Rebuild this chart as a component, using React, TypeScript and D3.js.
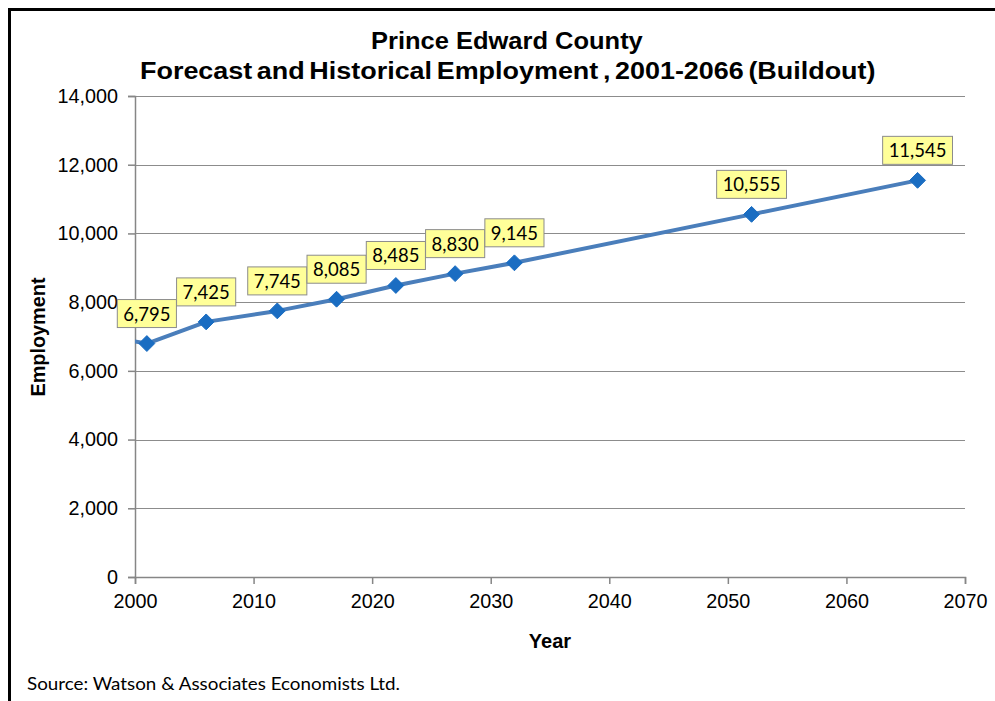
import React, { useEffect, useRef } from "react";
import * as d3 from "d3";

const years = [2001, 2006, 2012, 2017, 2022, 2027, 2032, 2052, 2066];
const employment = [6795, 7425, 7745, 8085, 8485, 8830, 9145, 10555, 11545];
// earlier (clipped) history point that enters the plot from the left edge
const leadYear = [1996];
const leadValue = [7090];
const yTicks = [0, 2000, 4000, 6000, 8000, 10000, 12000, 14000];
const xTicks = [2000, 2010, 2020, 2030, 2040, 2050, 2060, 2070];
const titleLines = [
  "Prince Edward County",
  "Forecast and Historical Employment , 2001-2066 (Buildout)",
];
const xTitle = "Year";
const yTitle = "Employment";
const sourceNote = "Source: Watson & Associates Economists Ltd.";

const W = 995;
const H = 701;
const L = 135, R = 965, T = 96, B = 577;
const ARIAL = "'Liberation Sans', Arimo, Arial, Helvetica, sans-serif";
const CALIBRI = "Lato, 'Open Sans', sans-serif";

export default function App() {
  const ref = useRef<SVGSVGElement>(null);
  useEffect(() => {
    const svg = d3.select(ref.current);
    svg.selectAll("*").remove();
    const x = d3.scaleLinear().domain([2000, 2070]).range([L, R]);
    const y = d3.scaleLinear().domain([0, 14000]).range([B, T]);
    const fmt = d3.format(",");

    svg.append("rect").attr("width", W).attr("height", H).attr("fill", "#fff");
    // outer border
    svg.append("rect").attr("x", 9.5).attr("y", 9.5).attr("width", 1000).attr("height", 720)
      .attr("fill", "none").attr("stroke", "#000").attr("stroke-width", 3);

    // title (stretched horizontally like the source rendering)
    const titleSpecs = [
      { text: titleLines[0], x: 371, w: 272, y: 49, ws: 0 },
      { text: titleLines[1], x: 140, w: 736, y: 79, ws: -2.5 },
    ];
    titleSpecs.forEach(s => {
      const g = svg.append("g");
      const t = g.append("text").attr("x", 0).attr("y", 0)
        .style("font-family", ARIAL).attr("font-weight", "bold")
        .attr("font-size", 23.5).attr("fill", "#000").attr("word-spacing", s.ws)
        .text(s.text);
      const nat = (t.node() as SVGTextElement).getBBox().width;
      const k = s.w / nat;
      g.attr("transform", `translate(${s.x},${s.y}) scale(${k},1)`);
    });

    // gridlines
    svg.append("g").selectAll("line").data(yTicks.filter(d => d > 0)).join("line")
      .attr("x1", L).attr("x2", R).attr("y1", d => Math.round(y(d)) + 0.5).attr("y2", d => Math.round(y(d)) + 0.5)
      .attr("stroke", "#8c8c8c").attr("stroke-width", 1);

    // y axis
    const yAxis = svg.append("g").attr("transform", `translate(${L},0)`)
      .call(d3.axisLeft(y).tickValues(yTicks).tickFormat(d => fmt(d as number)).tickSize(7).tickPadding(10));
    yAxis.select(".domain").attr("stroke", "#868686").attr("stroke-width", 1.5);
    yAxis.selectAll(".tick line").attr("stroke", "#868686").attr("stroke-width", 1.5);
    yAxis.selectAll(".tick text").style("font-family", ARIAL)
      .attr("font-size", 19.8).attr("fill", "#000");

    // x axis
    const xAxis = svg.append("g").attr("transform", `translate(0,${B})`)
      .call(d3.axisBottom(x).tickValues(xTicks).tickFormat(d => String(d)).tickSize(7).tickPadding(10));
    xAxis.select(".domain").attr("stroke", "#868686").attr("stroke-width", 1.5);
    xAxis.selectAll(".tick line").attr("stroke", "#868686").attr("stroke-width", 1.5);
    xAxis.selectAll(".tick text").style("font-family", ARIAL)
      .attr("font-size", 19.8).attr("fill", "#000");

    // axis titles
    svg.append("text").attr("x", 550).attr("y", 648).attr("text-anchor", "middle")
      .style("font-family", ARIAL).attr("font-weight", "bold")
      .attr("font-size", 20).text(xTitle);
    svg.append("text").attr("transform", `translate(45,${337}) rotate(-90)`).attr("text-anchor", "middle")
      .style("font-family", ARIAL).attr("font-weight", "bold")
      .attr("font-size", 20).attr("textLength", 119).attr("lengthAdjust", "spacingAndGlyphs").text(yTitle);

    // clip
    svg.append("clipPath").attr("id", "plotclip").append("rect")
      .attr("x", L).attr("y", T - 20).attr("width", R - L + 20).attr("height", B - T + 20);

    const pts = years.map((yr, i) => ({ yr, v: employment[i] }));
    const allPts = leadYear.map((yr, i) => ({ yr, v: leadValue[i] })).concat(pts);
    const line = d3.line<{ yr: number; v: number }>().x(d => x(d.yr)).y(d => y(d.v));
    svg.append("path").attr("d", line(allPts)).attr("clip-path", "url(#plotclip)")
      .attr("fill", "none").attr("stroke", "#4A7EBB").attr("stroke-width", 4)
      .attr("stroke-linejoin", "round");

    const sym = d3.symbol().type(d3.symbolDiamond2).size(160);
    svg.append("g").selectAll("path").data(pts).join("path")
      .attr("transform", d => `translate(${x(d.yr)},${y(d.v)})`)
      .attr("d", sym()).attr("fill", "#1A6DC2").attr("stroke", "#1A6DC2").attr("stroke-width", 1);

    // data labels
    const lg = svg.append("g");
    pts.forEach(d => {
      const g = lg.append("g");
      const t = g.append("text").style("font-family", CALIBRI)
        .attr("font-size", 18.5).attr("fill", "#000").attr("text-anchor", "middle")
        .attr("x", x(d.yr)).attr("y", y(d.v) - 23).text(fmt(d.v));
      const w = (t.node() as SVGTextElement).getComputedTextLength();
      const bw = w + 12;
      const bh = 28;
      const by = y(d.v) - 16 - bh;
      g.insert("rect", "text").attr("x", x(d.yr) - bw / 2).attr("y", by).attr("width", bw).attr("height", bh)
        .attr("fill", "#FFFF99").attr("stroke", "#8c8c8c").attr("stroke-width", 1);
    });

    // source
    svg.append("text").attr("x", 27).attr("y", 690).style("font-family", CALIBRI)
      .attr("font-size", 18).attr("fill", "#000")
      .attr("textLength", 373).attr("lengthAdjust", "spacingAndGlyphs").text(sourceNote);
  }, []);
  return (
    <div style={{ position: "absolute", left: 0, top: 0 }}>
      <svg ref={ref} width={W} height={H} style={{ display: "block" }} />
    </div>
  );
}
